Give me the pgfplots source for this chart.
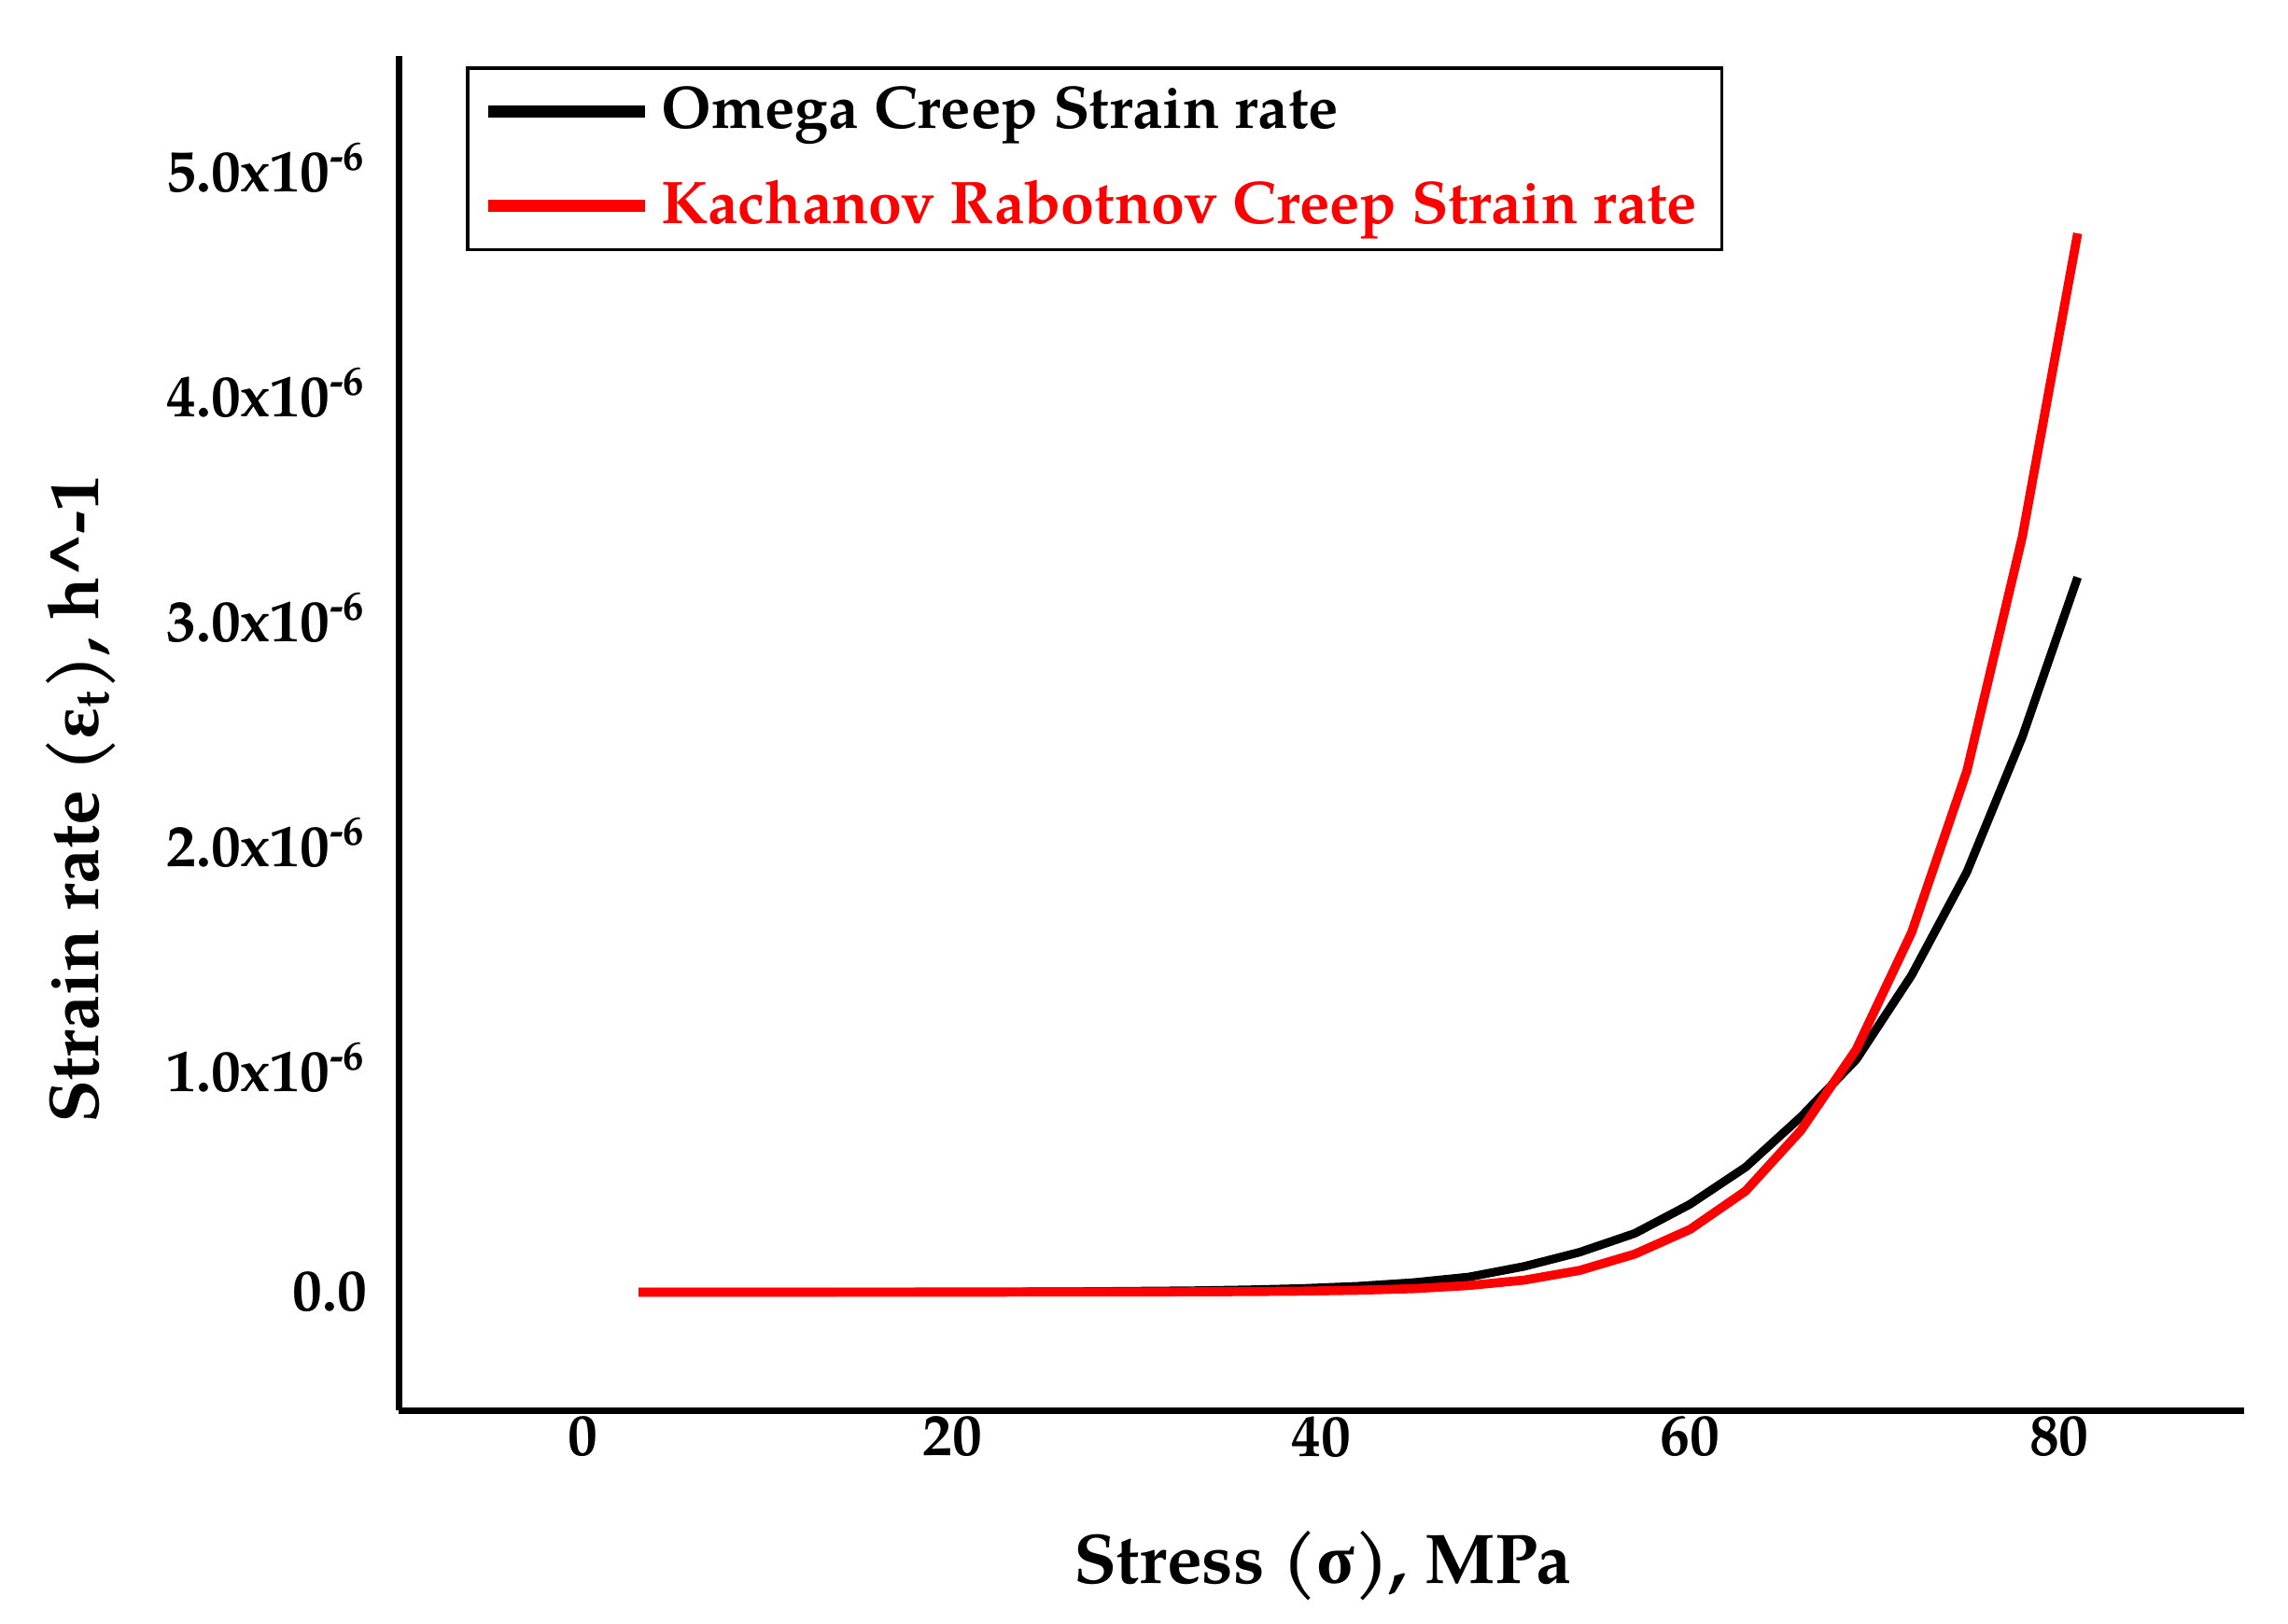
\documentclass[border=0pt]{standalone}
\usepackage{pgfplots}
\pgfplotsset{compat=1.18}
\usepackage{fontspec}
\setmainfont{texgyrepagella}[Extension=.otf, UprightFont=*-regular, BoldFont=*-bold, ItalicFont=*-italic, BoldItalicFont=*-bolditalic]
\newfontfamily\greekfont{Liberation Serif}

% strain rate in units of 1e-6 1/h
\pgfplotstableread{
s    rate
3    0.000
6    0.000
9    0.000
12   0.000
15   0.001
18   0.001
21   0.002
24   0.002
27   0.003
30   0.005
33   0.007
36   0.011
39   0.017
42   0.027
45   0.043
48   0.068
51   0.115
54   0.178
57   0.262
60   0.392
63   0.556
66   0.780
69   1.035
72   1.410
75   1.870
78   2.470
81   3.180
}\omega

\pgfplotstableread{
s    rate
3    0.000
6    0.000
9    0.000
12   0.000
15   0.000
18   0.000
21   0.000
24   0.001
27   0.001
30   0.001
33   0.002
36   0.003
39   0.005
42   0.009
45   0.016
48   0.030
51   0.054
54   0.097
57   0.170
60   0.280
63   0.450
66   0.720
69   1.080
72   1.600
75   2.320
78   3.360
81   4.710
}\kr

\begin{document}
\begin{tikzpicture}
\path[use as bounding box] (-2.79cm,-1.49cm) rectangle (13.22cm,9.87cm);
\begin{axis}[
  scale only axis,
  width=12.91cm, height=9.48cm,
  xmin=-10, xmax=90,
  ymin=-0.525, ymax=5.5,
  axis lines=left,
  axis line style={-, line width=1.3pt},
  major tick length=0pt,
  xtick={0,20,40,60,80},
  xticklabels={0,20,40,60,80},
  ytick={0,1,2,3,4,5},
  yticklabels={0.0,
    1.0x10\textsuperscript{-6},
    2.0x10\textsuperscript{-6},
    3.0x10\textsuperscript{-6},
    4.0x10\textsuperscript{-6},
    5.0x10\textsuperscript{-6}},
  ticklabel style={font=\fontsize{11.8}{14}\selectfont\bfseries},
  xticklabel style={yshift=0.08cm},
  yticklabel style={xshift=-0.1cm},
  xlabel={Stress ({\greekfont σ}), MPa},
  ylabel={Strain rate ({\greekfont ε}\textsubscript{t}), h\^{}-1},
  every axis x label/.style={at={(axis description cs:0.5008,-0.1147)}, anchor=center,
    font=\fontsize{14}{17}\selectfont\bfseries},
  every axis y label/.style={at={(axis description cs:-0.1725,0.451)}, anchor=center, rotate=90,
    font=\fontsize{14}{17}\selectfont\bfseries},
  legend style={at={(axis description cs:0.0366,0.992)}, anchor=north west,
    draw=black, line width=0.6pt, font=\fontsize{12}{14}\selectfont\bfseries,
    cells={anchor=west}, row sep=0.17cm, inner xsep=0.1cm, inner ysep=0.06cm},
  legend image code/.code={\draw[#1, line width=2.4pt] (0cm,0cm) -- (1.1cm,0cm);},
]
\addplot[black, line width=1.7pt] table[x=s, y=rate] {\omega};
\addlegendentry{Omega Creep Strain rate}
\addplot[red, line width=1.8pt] table[x=s, y=rate] {\kr};
\addlegendentry{\textcolor{red}{Kachanov Rabotnov Creep Strain rate}}
\end{axis}
\end{tikzpicture}
\end{document}
